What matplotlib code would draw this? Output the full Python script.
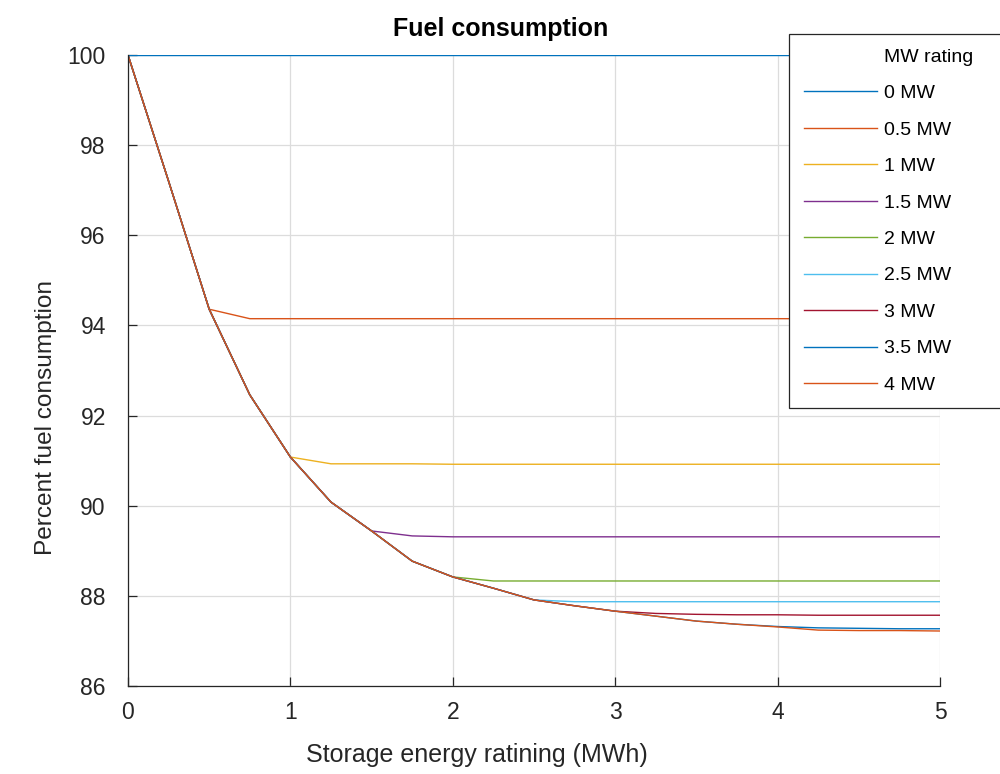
import matplotlib.pyplot as plt

plt.rcParams['font.family'] = ['Liberation Sans', 'DejaVu Sans']

storage_mwh = [0, 0.25, 0.5, 0.75, 1, 1.25, 1.5, 1.75, 2, 2.25, 2.5,
               2.75, 3, 3.25, 3.5, 3.75, 4, 4.25, 4.5, 4.75, 5]

# shared curve (no power limit reached yet)
envelope = [100, 97.2, 94.36, 92.46, 91.08, 90.08, 89.44, 88.77, 88.42, 88.17, 87.91,
            87.78, 87.66, 87.55, 87.44, 87.37, 87.31, 87.24, 87.23, 87.23, 87.22]

mw_labels = ["0 MW", "0.5 MW", "1 MW", "1.5 MW", "2 MW", "2.5 MW", "3 MW", "3.5 MW", "4 MW"]

fuel_0 = [100] * 21
fuel_05 = envelope[:3] + [94.15] * 18
fuel_1 = envelope[:5] + [90.93, 90.93, 90.93] + [90.92] * 13
fuel_15 = envelope[:7] + [89.33] + [89.31] * 13
fuel_2 = envelope[:9] + [88.33] * 12
fuel_25 = envelope[:11] + [87.87] * 10
fuel_3 = envelope[:13] + [87.61, 87.59, 87.58, 87.58, 87.57, 87.57, 87.57, 87.57]
fuel_35 = envelope[:15] + [87.37, 87.32, 87.29, 87.28, 87.27, 87.27]
fuel_4 = envelope

series = [fuel_0, fuel_05, fuel_1, fuel_15, fuel_2, fuel_25, fuel_3, fuel_35, fuel_4]
colors = ["#0072BD", "#D95319", "#EDB120", "#7E2F8E", "#77AC30",
          "#4DBEEE", "#A2142F", "#0072BD", "#D95319"]

fig = plt.figure(figsize=(10, 7.74), dpi=100)
ax = fig.add_axes([0.128, 0.1137, 0.812, 0.8152])

for y, c, lab in zip(series, colors, mw_labels):
    ax.plot(storage_mwh, y, color=c, linewidth=1.0, label=lab)

ax.set_xlim(0, 5)
ax.set_ylim(86, 100)
ax.set_xticks([0, 1, 2, 3, 4, 5])
ax.set_yticks([86, 88, 90, 92, 94, 96, 98, 100])
ax.grid(True, color="#dcdcdc", linewidth=0.9)
ax.set_axisbelow(True)
for s in ["top", "right"]:
    ax.spines[s].set_visible(False)
for s in ["left", "bottom"]:
    ax.spines[s].set_color("#262626")
    ax.spines[s].set_linewidth(0.9)
ax.tick_params(direction="in", length=6.5, width=0.9, colors="#262626", labelsize=16.5)
ax.tick_params(axis="x", pad=11)
ax.tick_params(axis="y", pad=16)

ax.set_title("Fuel consumption", fontsize=18, fontweight="bold", pad=14, x=0.459)
ax.set_xlabel("Storage energy ratining (MWh)", fontsize=18, color="#262626")
ax.xaxis.set_label_coords(0.430, -0.090)
ax.set_ylabel("Percent fuel consumption", fontsize=17.6, color="#262626", labelpad=7.5)
ax.yaxis.label.set_y(0.425)

leg = ax.legend(bbox_to_anchor=(0.789, 0.4703, 0.28, 0.4857), bbox_transform=fig.transFigure,
                loc="upper left", mode="expand", title="MW rating",
                fontsize=14, title_fontsize=14, handlelength=3.76, handletextpad=0.4,
                labelspacing=0.97, borderpad=0.75, borderaxespad=0, fancybox=False,
                framealpha=1, edgecolor="#262626")
leg.get_frame().set_linewidth(0.9)

fig.savefig("out.png", dpi=100)
